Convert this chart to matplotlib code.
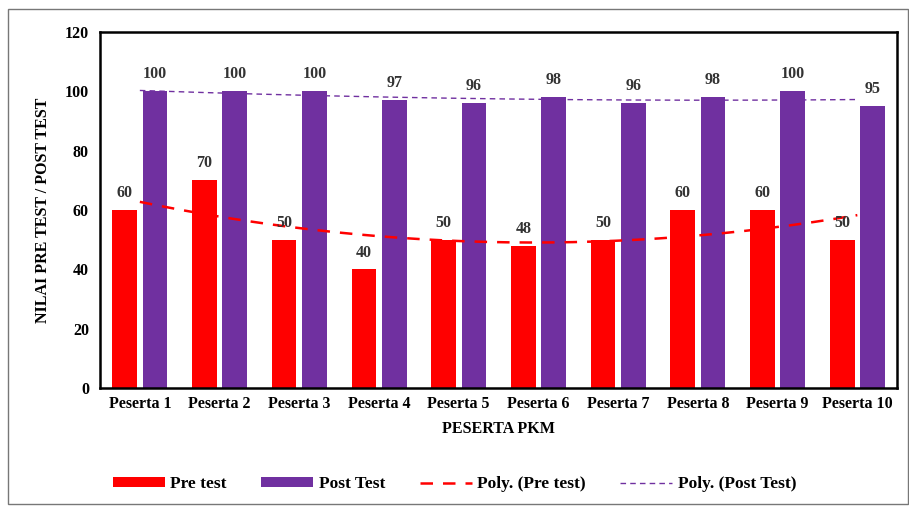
import matplotlib.pyplot as plt
import numpy as np
from matplotlib.patches import Rectangle

peserta = ["Peserta 1", "Peserta 2", "Peserta 3", "Peserta 4", "Peserta 5",
           "Peserta 6", "Peserta 7", "Peserta 8", "Peserta 9", "Peserta 10"]
pre_test = [60, 70, 50, 40, 50, 48, 50, 60, 60, 50]
post_test = [100, 100, 100, 97, 96, 98, 96, 98, 100, 95]

merah = "#FF0000"
ungu = "#7030A0"

plt.rcParams['font.family'] = ['Liberation Serif', 'DejaVu Serif']
plt.rcParams['font.weight'] = 'bold'

fig = plt.figure(figsize=(9.09, 5.08), dpi=100)
ax = fig.add_axes([0.110, 0.236, 0.877, 0.701])

x = np.arange(len(peserta))
lebar = 0.31
b1 = ax.bar(x - 0.19, pre_test, lebar, color=merah, label="Pre test")
b2 = ax.bar(x + 0.19, post_test, lebar, color=ungu, label="Post Test")

for rect, v in zip(b1, pre_test):
    ax.text(rect.get_x() + rect.get_width() / 2, v + 3, str(v),
            ha='center', va='bottom', fontsize=11.5, fontweight='bold', color='#333333')
for rect, v in zip(b2, post_test):
    ax.text(rect.get_x() + rect.get_width() / 2, v + 3, str(v),
            ha='center', va='bottom', fontsize=11.5, fontweight='bold', color='#333333')

# trendline polinomial orde 2 seperti di Excel
xs = np.linspace(x[0], x[-1], 200)
k1 = np.polyfit(x, pre_test, 2)
k2 = np.polyfit(x, post_test, 2)
ax.plot(xs, np.polyval(k1, xs), '--', color=merah, lw=1.8, dashes=(5, 4), label="Poly. (Pre test)")
ax.plot(xs, np.polyval(k2, xs), '--', color=ungu, lw=1.0, dashes=(4, 3), label="Poly. (Post Test)")

ax.set_xlim(-0.5, len(peserta) - 0.5)
ax.set_ylim(0, 120)
ax.set_yticks(np.arange(0, 121, 20))
ax.set_xticks(x)
ax.set_xticklabels(peserta, fontsize=11.5, fontweight='bold')
ax.tick_params(axis='y', labelsize=11.5, length=0, pad=8)
ax.tick_params(axis='x', length=0, pad=6)
for s in ax.spines.values():
    s.set_linewidth(1.8)

ax.set_xlabel("PESERTA PKM", fontsize=11.5, fontweight='bold', labelpad=6)
ax.set_ylabel("NILAI PRE TEST / POST TEST", fontsize=11.5, fontweight='bold', labelpad=10)

h, l = ax.get_legend_handles_labels()
urut = [2, 3, 0, 1]
fig.legend([h[i] for i in urut], [l[i] for i in urut], loc='lower center', ncol=4,
           frameon=False, fontsize=12.5, bbox_to_anchor=(0.5, 0.0), handlelength=3.0,
           handletextpad=0.3, columnspacing=2.0, handleheight=0.55)

fig.patches.append(Rectangle((0.009, 0.008), 0.99, 0.975, transform=fig.transFigure,
                             fill=False, edgecolor='#777777', lw=1.0))

fig.savefig("out.png", dpi=100)
